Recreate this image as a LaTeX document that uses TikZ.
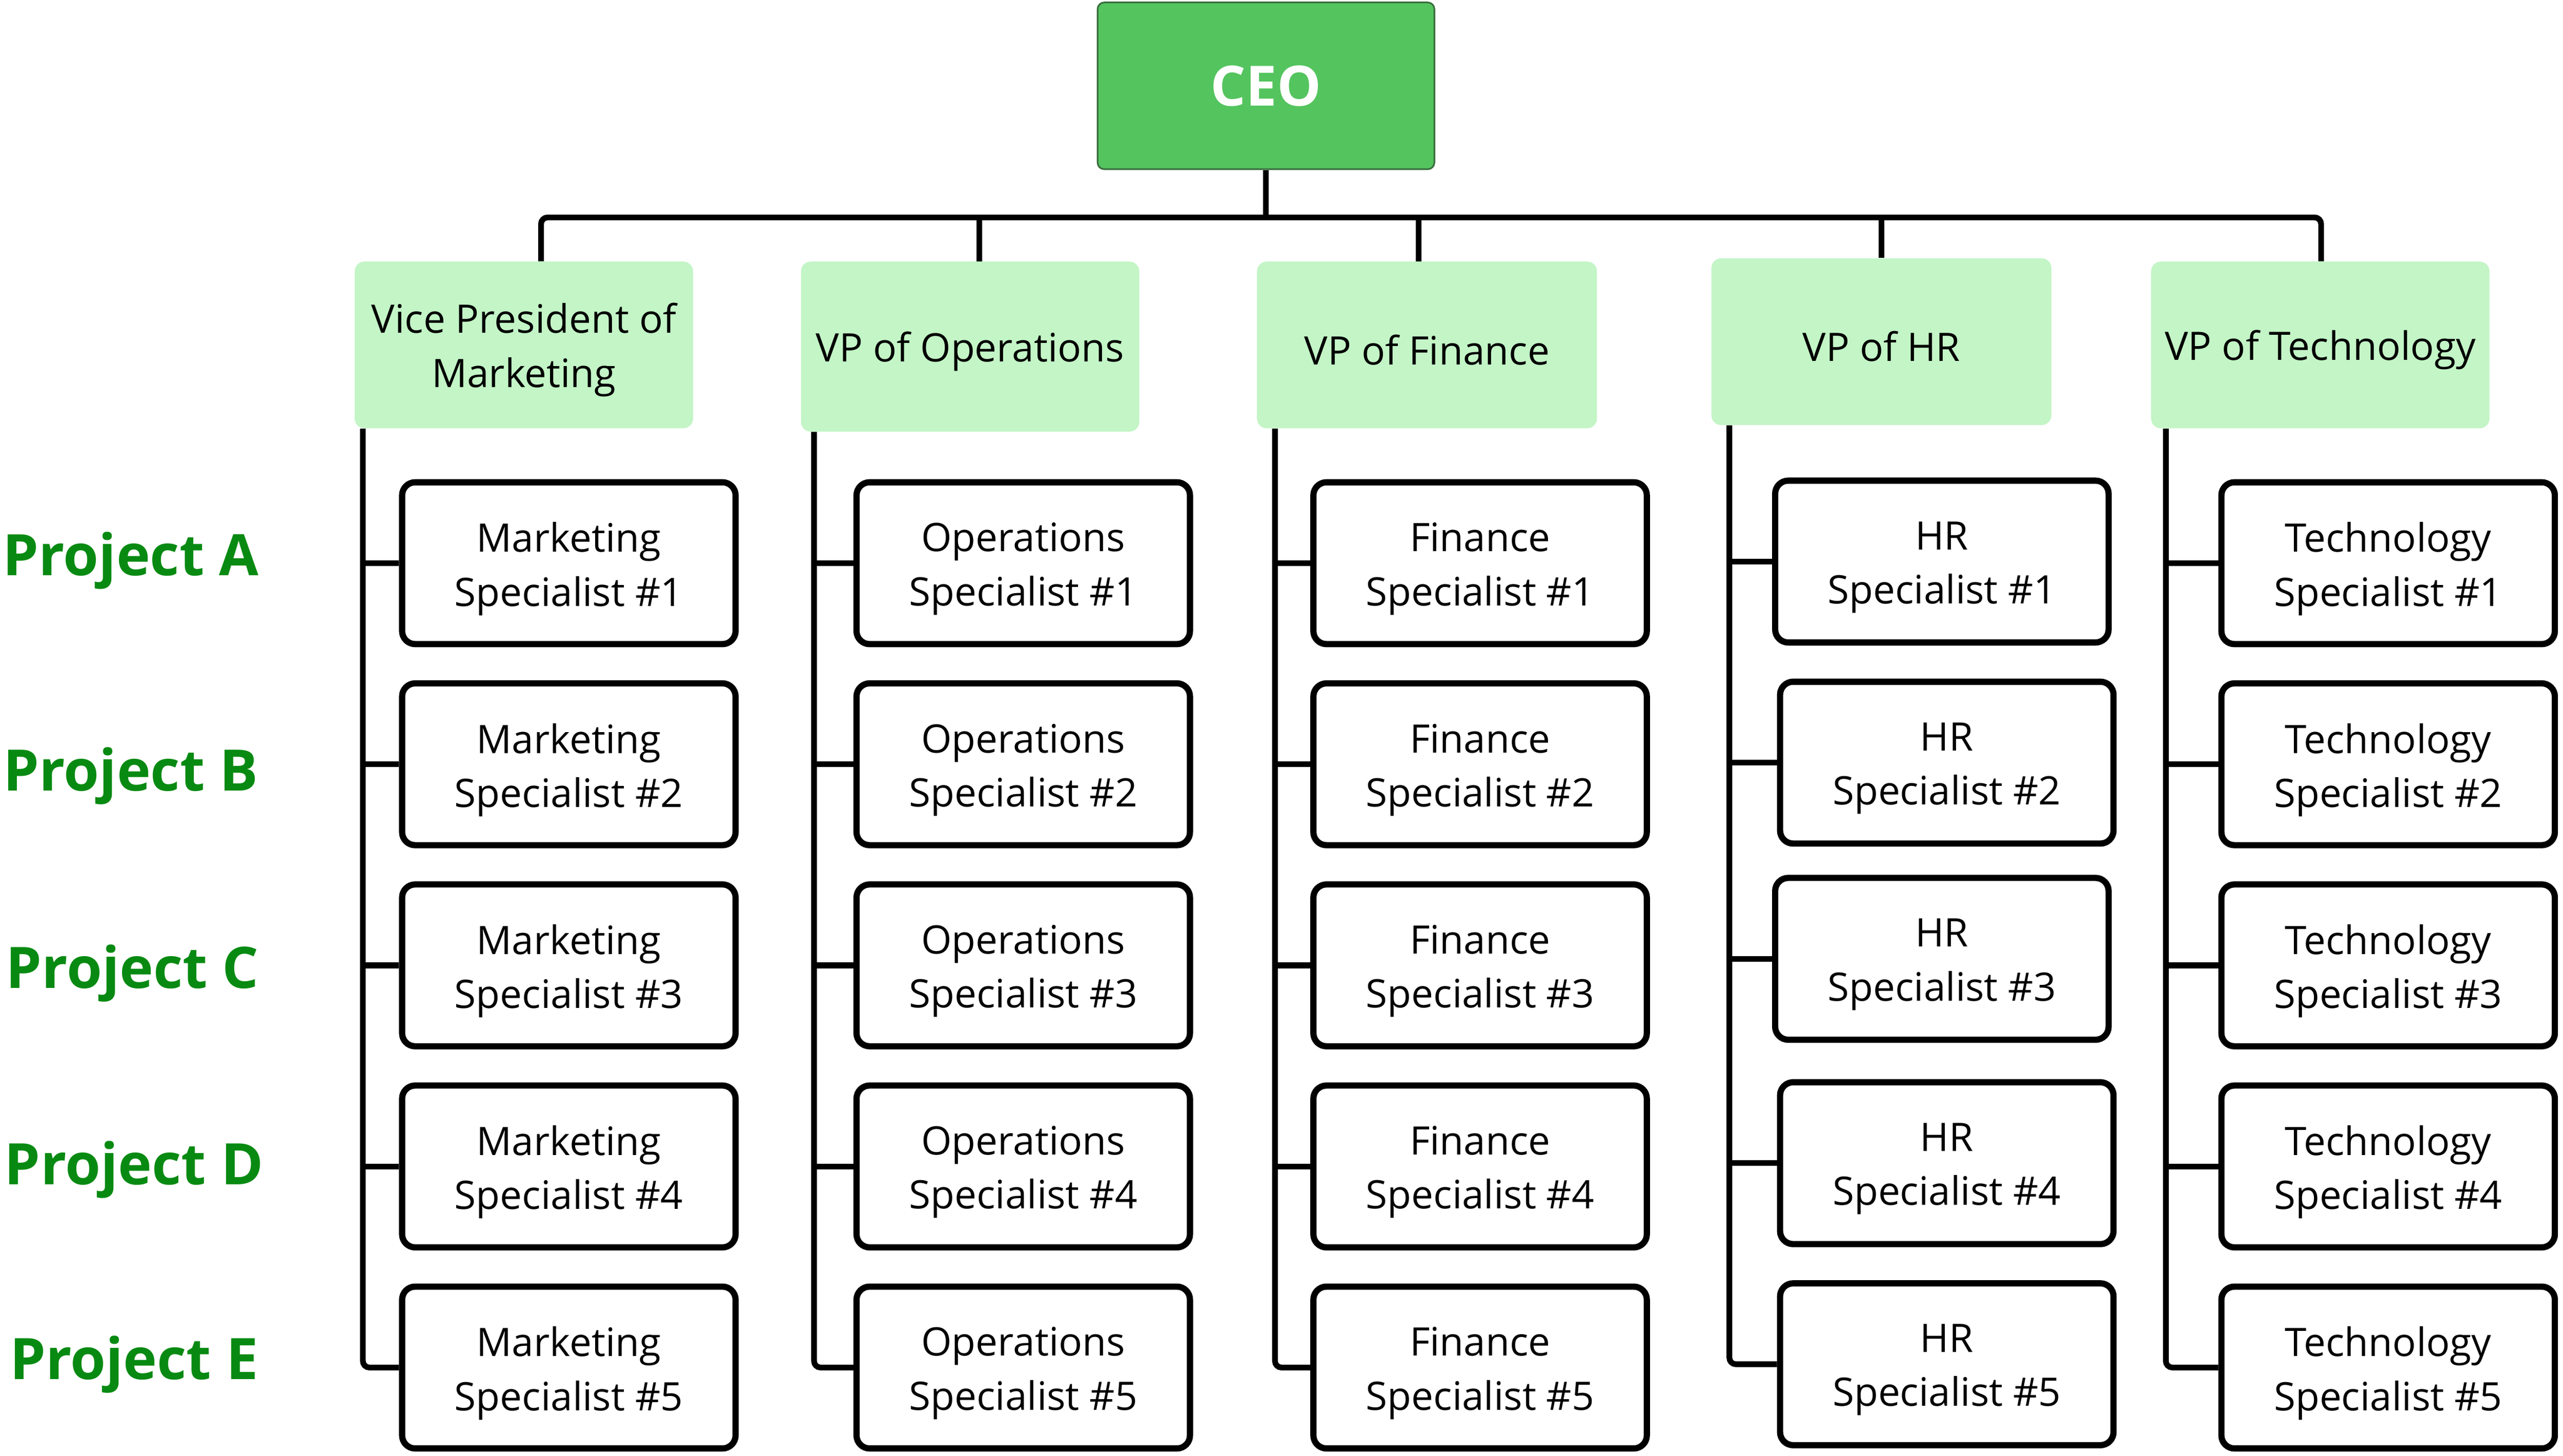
\documentclass[tikz,border=0pt]{standalone}
\usepackage{fontspec}
\setmainfont{Open Sans}
\definecolor{ceofill}{HTML}{54C45E}
\definecolor{ceoedge}{HTML}{3A6E3E}
\definecolor{vpfill}{HTML}{C3F5C6}
\definecolor{projgreen}{RGB}{8,138,18}
\tikzset{
  ceobox/.style={draw=ceoedge, line width=1pt, fill=ceofill, rounded corners=4pt,
    minimum width=206pt, minimum height=102pt, inner sep=0pt,
    text=white, font=\fontsize{34}{40}\selectfont\bfseries},
  vpbox/.style={fill=vpfill, rounded corners=6pt, inner sep=0pt,
    minimum width=207pt, minimum height=102pt},
  specbox/.style={draw=black, line width=3.8pt, fill=white, rounded corners=8pt,
    inner sep=0pt, minimum width=204pt, minimum height=99pt},
  boxtext/.style={inner sep=0pt, align=center, font=\fontsize{24}{33}\selectfont},
  projlabel/.style={text=projgreen, font=\fontsize{35}{40}\selectfont\bfseries, inner sep=0pt},
  conn/.style={draw=black, line width=3.5pt},
}
\begin{document}
\begin{tikzpicture}[x=1pt,y=-1pt]
\useasboundingbox (0,0) rectangle (1568,890.6);

% CEO
\node[ceobox] (ceo) at (774.5,52.5) {CEO};

% VPs
\node[vpbox] (vp1) at (320.5,211) {};
\node[vpbox, minimum height=104pt] (vp2) at (593.5,212) {};
\node[vpbox, minimum width=208pt] (vp3) at (873,211) {};
\node[vpbox, minimum width=208pt] (vp4) at (1151,209) {};
\node[vpbox] (vp5) at (1419.5,211) {};
\node[boxtext] (vp1t) at ([yshift=-3pt]vp1.center) {Vice President of\\Marketing};
\node[boxtext] (vp2t) at ([yshift=-3pt]vp2.center) {VP of Operations};
\node[boxtext] (vp3t) at ([yshift=-3pt]vp3.center) {VP of Finance};
\node[boxtext] (vp4t) at ([yshift=-3pt]vp4.center) {VP of HR};
\node[boxtext] (vp5t) at ([yshift=-3pt]vp5.center) {VP of Technology};

% bus
\coordinate (b1) at (331,133);
\coordinate (b2) at (599,133);
\coordinate (b3) at (868,133);
\coordinate (b4) at (1151,133);
\coordinate (b5) at (1420,133);
\draw[conn, rounded corners=4pt] (b1 |- vp1.north) -- (b1) -- (b5) -- (b5 |- vp5.north);
\draw[conn] (ceo.south) -- (ceo.south |- b1);
\draw[conn] (b2) -- (b2 |- vp2.north);
\draw[conn] (b3) -- (b3 |- vp3.north);
\draw[conn] (b4) -- (b4 |- vp4.north);

% Project labels
\node[projlabel] (pa) at (80,343) {Project A};
\node[projlabel] (pb) at (80,474.5) {Project B};
\node[projlabel] (pc) at (81,595.5) {Project C};
\node[projlabel] (pd) at (82,715.5) {Project D};
\node[projlabel] (pe) at (82,834.5) {Project E};

% Specialists
\foreach \c/\name/\cx/\sx in {1/Marketing/348/222, 2/Operations/626/498, 3/Finance/905.5/780, 5/Technology/1461/1325}{
  \foreach \r/\ry in {1/344.5, 2/467.5, 3/590.5, 4/713.5, 5/836.5}{
    \node[specbox] (s\c-\r) at (\cx,\ry) {};
    \node[boxtext] (s\c-\r t) at ([yshift=-3.5pt]s\c-\r.center) {\name\\Specialist \#\r};
  }
  \coordinate (sp\c) at (\sx,0);
  \draw[conn, rounded corners=4pt] (sp\c |- vp\c.south) -- (sp\c |- s\c-5.west) -- (s\c-5.west);
  \foreach \r in {1,2,3,4}{
    \draw[conn] (sp\c |- s\c-\r.west) -- (s\c-\r.west);
  }
}
% HR column (slightly staggered)
\foreach \r/\rx/\ry in {1/1188/343.5, 2/1191/466.5, 3/1188/586.5, 4/1191/711.5, 5/1191/834.5}{
  \node[specbox] (s4-\r) at (\rx,\ry) {};
  \node[boxtext] (s4-\r t) at ([yshift=-3.5pt]s4-\r.center) {HR\\Specialist \#\r};
}
\coordinate (sp4) at (1058,0);
\draw[conn, rounded corners=4pt] (sp4 |- vp4.south) -- (sp4 |- s4-5.west) -- (s4-5.west);
\foreach \r in {1,2,3,4}{
  \draw[conn] (sp4 |- s4-\r.west) -- (s4-\r.west);
}
\end{tikzpicture}
\end{document}
